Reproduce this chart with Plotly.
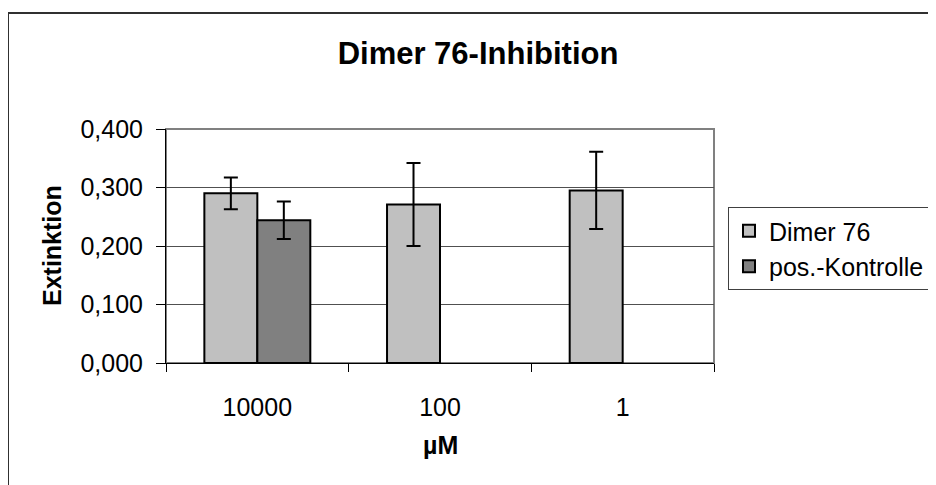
import plotly.graph_objects as go

categories = ["10000", "100", "1"]
dimer_values = [0.290, 0.271, 0.295]
dimer_errors = [0.027, 0.071, 0.066]
kontrolle_values = [0.244, None, None]
kontrolle_errors = [0.032, None, None]
y_ticks = [0.0, 0.1, 0.2, 0.3, 0.4]
y_tick_labels = ["0,000", "0,100", "0,200", "0,300", "0,400"]

FONT = "Liberation Sans, Arial, sans-serif"
OFF = 8  # browser default body margin

fig = go.Figure()
fig.add_trace(go.Bar(
    name="Dimer 76", x=categories, y=dimer_values,
    marker=dict(color="#C0C0C0", line=dict(color="black", width=2)),
    error_y=dict(type="data", array=dimer_errors, visible=True,
                 color="black", thickness=2, width=7),
))
fig.add_trace(go.Bar(
    name="pos.-Kontrolle", x=categories, y=kontrolle_values,
    marker=dict(color="#808080", line=dict(color="black", width=2)),
    error_y=dict(type="data", array=kontrolle_errors, visible=True,
                 color="black", thickness=2, width=7),
))

# plot area in page pixels: x 166..714, y 129..363
L, R, T, B = 166 - OFF, 714 - OFF, 129 - OFF, 363 - OFF
W, H = R - L, B - T
def px(x):
    return (x - OFF - L) / W
def py(y):
    return (B - (y - OFF)) / H

FW, FH = 936, 485

fig.update_layout(
    width=FW, height=FH,
    margin=dict(l=L, r=FW - R, t=T, b=FH - B, autoexpand=False),
    paper_bgcolor="white", plot_bgcolor="white",
    barmode="group", bargap=0.42, bargroupgap=0,
    font=dict(family=FONT, size=25, color="black"),
    title=dict(text="<b>Dimer 76-Inhibition</b>", x=(478 - OFF) / FW, xanchor="center",
               y=1 - (53 - OFF) / FH, yanchor="middle",
               font=dict(family=FONT, size=31, color="black")),
    showlegend=True,
    legend=dict(x=px(728), y=py(207), xanchor="left", yanchor="top",
                bordercolor="#404040", borderwidth=1, bgcolor="white",
                font=dict(family=FONT, size=25, color="black"),
                tracegroupgap=0, itemwidth=30),
    xaxis=dict(type="category", showline=True, linecolor="black", linewidth=1,
               ticks="outside", tickson="boundaries", ticklen=8, tickcolor="black",
               tickfont=dict(size=25), showgrid=False, zeroline=False,
               ticklabelstandoff=22),
    yaxis=dict(range=[0, 0.4], tickvals=y_ticks, ticktext=y_tick_labels,
               showline=True, linecolor="black", linewidth=1,
               ticks="outside", ticklen=9, tickcolor="black",
               showgrid=True, gridcolor="#505050", gridwidth=1,
               zeroline=False, tickfont=dict(size=25), ticklabelstandoff=8),
    shapes=[
        dict(type="rect", xref="paper", yref="paper", x0=0, x1=1, y0=0, y1=1,
             line=dict(color="#808080", width=2), layer="below"),
        dict(type="rect", xref="paper", yref="paper",
             x0=px(8), x1=px(960), y0=py(510), y1=py(13),
             line=dict(color="#303030", width=2), layer="below"),
    ],
    annotations=[
        dict(text="<b>Extinktion</b>", xref="paper", yref="paper",
             x=px(52), y=py(246), textangle=-90, showarrow=False,
             xanchor="center", yanchor="middle",
             font=dict(family=FONT, size=25, color="black")),
        dict(text="<b>µM</b>", xref="paper", yref="paper",
             x=px(440), y=py(445), showarrow=False,
             xanchor="center", yanchor="middle",
             font=dict(family=FONT, size=25, color="black")),
    ],
)

fig.write_html("out.html")
